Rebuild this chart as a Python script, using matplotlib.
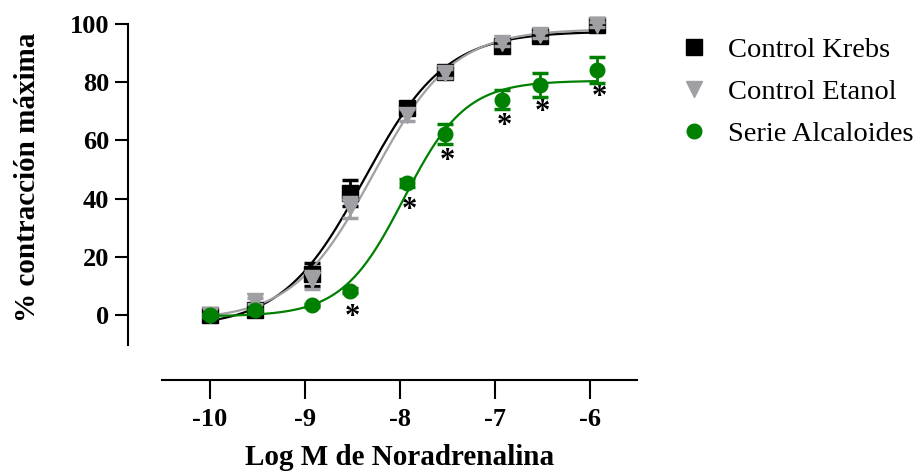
import matplotlib
matplotlib.use("Agg")
import matplotlib.pyplot as plt
import numpy as np

# log [noradrenaline] (M)
logConc = [-10.0, -9.52, -8.92, -8.52, -7.92, -7.52, -6.92, -6.52, -5.92]

krebs = [0.0, 1.7, 14.0, 42.0, 71.0, 83.6, 92.4, 95.9, 99.8]
krebsErr = [0.5, 1.0, 4.0, 4.5, 2.0, 1.5, 1.5, 1.0, 1.0]

etanol = [0.0, 4.9, 12.0, 37.0, 68.7, 83.0, 93.5, 96.2, 99.8]
etanolErr = [0.5, 1.0, 3.0, 3.5, 2.0, 1.5, 1.0, 1.0, 1.0]

alcaloides = [0.0, 1.7, 3.4, 8.4, 45.4, 62.2, 74.0, 79.0, 84.2]
alcaloidesErr = [0.5, 0.5, 0.5, 0.8, 1.5, 3.3, 3.3, 4.2, 4.5]
signif = [False, False, False, True, True, True, True, True, True]

labels = ["Control Krebs", "Control Etanol", "Serie Alcaloides"]


def hillFit(x, y):
    # grid search on logEC50 / slope, bottom and top by linear least squares
    x = np.asarray(x)
    y = np.asarray(y)
    ec = np.arange(-9.5, -6.5, 0.005)
    hs = np.arange(0.4, 2.5, 0.01)
    E, H = np.meshgrid(ec, hs, indexing="ij")
    E = E.ravel()[:, None]
    H = H.ravel()[:, None]
    s = 1.0 / (1.0 + 10 ** ((E - x[None, :]) * H))
    sm = s.mean(axis=1, keepdims=True)
    ym = y.mean()
    slope = ((s - sm) * (y - ym)).sum(axis=1, keepdims=True) / ((s - sm) ** 2).sum(axis=1, keepdims=True)
    inter = ym - slope * sm
    res = ((inter + slope * s - y) ** 2).sum(axis=1)
    i = np.argmin(res)
    bottom = inter[i, 0]
    top = bottom + slope[i, 0]
    return bottom, top, E[i, 0], H[i, 0]


def hill(x, p):
    bottom, top, ec, h = p
    return bottom + (top - bottom) / (1.0 + 10 ** ((ec - x) * h))


plt.rcParams["font.family"] = ["Liberation Serif", "DejaVu Serif"]

fig = plt.figure(figsize=(9.24, 4.73), dpi=100)
W, Hh = 924.0, 473.0
ax = fig.add_axes([128 / W, (Hh - 380) / Hh, (637 - 128) / W, (380 - 24) / Hh])

xs = np.linspace(logConc[0], logConc[-1], 300)
colors = ["black", "#a0a0a4", "#008000"]
markers = ["s", "v", "o"]
sizes = [11, 11.5, 10.5]
series = [(krebs, krebsErr), (etanol, etanolErr), (alcaloides, alcaloidesErr)]

for k, ((vals, errs), c, m, ms, lab) in enumerate(zip(series, colors, markers, sizes, labels)):
    p = hillFit(logConc, vals)
    ax.plot(xs, hill(xs, p), color=c, lw=1.6, zorder=2 + k, clip_on=False)
    ax.errorbar(logConc, vals, yerr=errs, fmt=m, color=c, ms=ms,
                elinewidth=2, capsize=6, capthick=2.5, zorder=3 + k, clip_on=False, label=lab)

for x, v, s in zip(logConc, alcaloides, signif):
    if s:
        ax.annotate("*", (x, v), xytext=(1.5, -19.5), textcoords="offset points",
                    ha="center", va="center", fontsize=22, fontweight="bold")

ax.set_xlim(-10.86, -5.5)
ax.set_ylim(-22.3, 100)
ax.spines["top"].set_visible(False)
ax.spines["right"].set_visible(False)
ax.spines["left"].set_bounds(-10.3, 100)
ax.spines["bottom"].set_bounds(-10.5, -5.5)
for sp in ["left", "bottom"]:
    ax.spines[sp].set_linewidth(1.5)

ax.set_xticks([-10, -9, -8, -7, -6])
ax.set_xticklabels(["-10", "-9", "-8", "-7", "-6"])
ax.set_yticks([0, 20, 40, 60, 80, 100])
ax.tick_params(axis="x", length=13.5, width=1.5, labelsize=19, pad=7)
ax.tick_params(axis="y", length=9.5, width=1.5, labelsize=19, pad=4)
for t in ax.get_xticklabels() + ax.get_yticklabels():
    t.set_fontweight("bold")

ax.set_xlabel("Log M de Noradrenalina", fontsize=21, fontweight="bold", labelpad=9)
ax.xaxis.label.set_x(0.534)
ax.set_ylabel("% contracción máxima", fontsize=21, fontweight="bold", labelpad=21)
ax.yaxis.label.set_y(0.57)

handles, labs = ax.get_legend_handles_labels()
handles = [h[0] for h in handles]
fig.legend(handles, labs, loc="upper left", bbox_to_anchor=(668 / W, 1 - 26 / Hh),
           frameon=False, fontsize=20.5, handletextpad=0.72, labelspacing=0.56,
           handlelength=1.0, borderaxespad=0)

fig.savefig("out.png", dpi=100)
